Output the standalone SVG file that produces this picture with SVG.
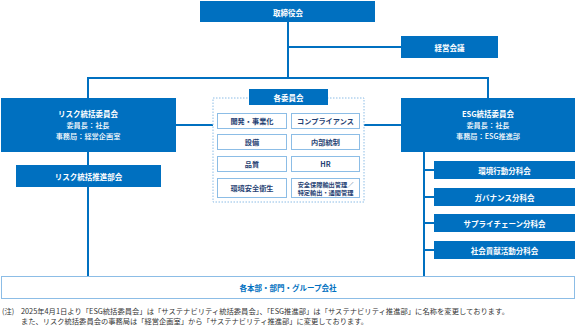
<svg xmlns="http://www.w3.org/2000/svg" width="576" height="327" viewBox="0 0 576 327">
<style>
.b{fill:#0070c0}
.w{fill:#fff;font-family:"Noto Sans CJK JP",sans-serif;font-weight:bold;font-size:7.5px;text-anchor:middle;dominant-baseline:central}
.ws{fill:#fff;font-family:"Noto Sans CJK JP",sans-serif;font-weight:500;font-size:7.2px;text-anchor:middle;dominant-baseline:central}
.c{fill:#fff;stroke:#8cbde6;stroke-width:1}
.ct{fill:#1f3f73;font-family:"Noto Sans CJK JP",sans-serif;font-weight:bold;font-size:7.2px;text-anchor:middle;dominant-baseline:central}
.ct2{fill:#1f3f73;font-family:"Noto Sans CJK JP",sans-serif;font-weight:bold;font-size:6.2px;text-anchor:middle}
.n{fill:#333;font-family:"Noto Sans CJK JP",sans-serif;font-size:7.3px}
.ln{stroke:#0070c0;stroke-width:2;fill:none}
</style>
<rect width="576" height="327" fill="#fff"/>
<g id="connectors">
<path class="ln" d="M288 22V78M88 78H488M88 77V98M488 77V98M288 47H401"/>
<path class="ln" d="M88 152V276M176 125H213M364 125H401"/>
<path class="ln" d="M424 151V276M424 170H434M424 197H434M424 223H434M424 250H434"/>
</g>
<g id="board"><rect class="b" x="200" y="1" width="175" height="21"/><text class="w" x="288" y="12">取締役会</text></g>
<g id="mgmt"><rect class="b" x="401" y="36" width="97" height="22"/><text class="w" x="449.5" y="47">経営会議</text></g>
<g id="risk"><rect class="b" x="1" y="98" width="175" height="54"/>
<text class="w" x="88" y="113">リスク統括委員会</text>
<text class="ws" x="88" y="124.5">委員長：社長</text>
<text class="ws" x="88" y="136">事務局：経営企画室</text></g>
<g id="risk-sub"><rect class="b" x="16" y="165" width="145" height="22"/><text class="w" x="88.5" y="176">リスク統括推進部会</text></g>
<g id="committees">
<rect x="213" y="98" width="151" height="104" fill="none" stroke="#8cbde6" stroke-width="1" stroke-dasharray="1.5 1.5"/>
<rect class="b" x="249" y="89" width="79" height="16"/><text class="w" x="288.5" y="97">各委員会</text>
<g id="c1"><rect class="c" x="217.5" y="113.5" width="69" height="15"/><text class="ct" x="252" y="121">開発・事業化</text></g>
<g id="c2"><rect class="c" x="291.5" y="113.5" width="68" height="15"/><text class="ct" x="325.5" y="121">コンプライアンス</text></g>
<g id="c3"><rect class="c" x="217.5" y="134.5" width="69" height="15"/><text class="ct" x="252" y="142">設備</text></g>
<g id="c4"><rect class="c" x="291.5" y="134.5" width="68" height="15"/><text class="ct" x="325.5" y="142">内部統制</text></g>
<g id="c5"><rect class="c" x="217.5" y="156.5" width="69" height="15"/><text class="ct" x="252" y="164">品質</text></g>
<g id="c6"><rect class="c" x="291.5" y="156.5" width="68" height="15"/><text class="ct" x="325.5" y="164">HR</text></g>
<g id="c7"><rect class="c" x="217.5" y="178.5" width="69" height="19"/><text class="ct" x="252" y="188">環境安全衛生</text></g>
<g id="c8"><rect class="c" x="291.5" y="178.5" width="68" height="19"/><text class="ct2" x="325.5" y="187">安全保障輸出管理／</text><text class="ct2" x="325.5" y="194.5">特定輸出・通関管理</text></g>
</g>
<g id="esg"><rect class="b" x="401" y="98" width="174" height="54"/>
<text class="w" x="488" y="113">ESG統括委員会</text>
<text class="ws" x="488" y="124.5">委員長：社長</text>
<text class="ws" x="488" y="136">事務局：ESG推進部</text></g>
<g id="esg1"><rect class="b" x="434" y="161" width="141" height="18"/><text class="w" x="504.5" y="170">環境行動分科会</text></g>
<g id="esg2"><rect class="b" x="434" y="188" width="141" height="18"/><text class="w" x="504.5" y="197">ガバナンス分科会</text></g>
<g id="esg3"><rect class="b" x="434" y="214" width="141" height="18"/><text class="w" x="504.5" y="223">サプライチェーン分科会</text></g>
<g id="esg4"><rect class="b" x="434" y="241" width="141" height="18"/><text class="w" x="504.5" y="250">社会貢献活動分科会</text></g>
<g id="bottom"><rect x="1.5" y="276.5" width="573" height="22" fill="#fff" stroke="#8cbde6" stroke-width="1"/>
<text x="288" y="287.5" style="fill:#0070c0;font-family:'Noto Sans CJK JP',sans-serif;font-weight:bold;font-size:7.5px;text-anchor:middle;dominant-baseline:central">各本部・部門・グループ会社</text></g>
<g id="note">
<text class="n" x="2" y="314">(注)</text>
<text class="n" x="21" y="314" textLength="488" lengthAdjust="spacingAndGlyphs">2025年4月1日より「ESG統括委員会」は「サステナビリティ統括委員会」、「ESG推進部」は「サステナビリティ推進部」に名称を変更しております。</text>
<text class="n" x="21" y="323.5" textLength="347" lengthAdjust="spacingAndGlyphs">また、リスク統括委員会の事務局は「経営企画室」から「サステナビリティ推進部」に変更しております。</text>
</g>
</svg>
